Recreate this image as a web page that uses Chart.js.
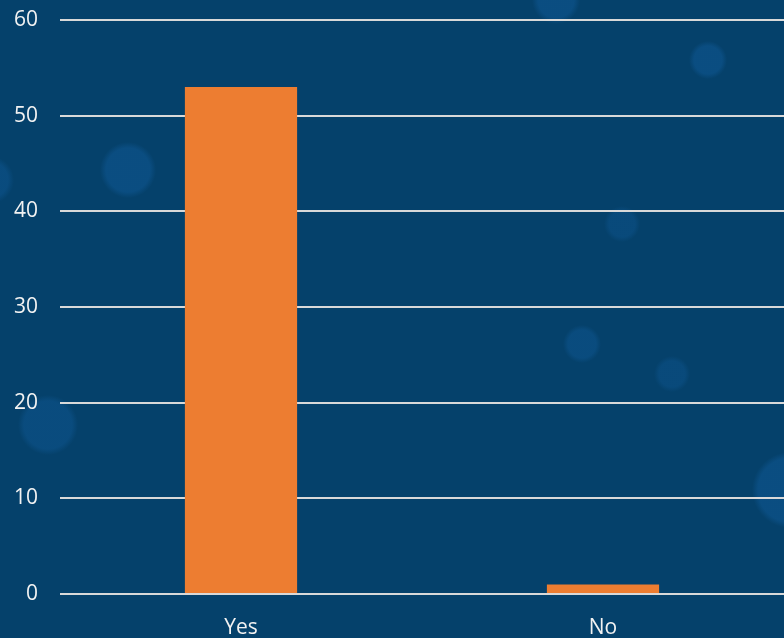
<!DOCTYPE html>
<html><head><meta charset="utf-8">
<script src="https://cdn.jsdelivr.net/npm/chart.js@4"></script>
<style>
html,body{margin:0;padding:0;}
body{width:784px;height:638px;overflow:hidden;
background-color:#05416b;
background-image:
radial-gradient(circle at 556px 0px, rgba(20,100,170,0.35) 0 18px, transparent 24px),
radial-gradient(circle at 708px 60px, rgba(20,100,170,0.35) 0 14px, transparent 19px),
radial-gradient(circle at 128px 170px, rgba(20,100,170,0.35) 0 22px, transparent 28px),
radial-gradient(circle at 622px 224px, rgba(20,100,170,0.25) 0 13px, transparent 18px),
radial-gradient(circle at 582px 344px, rgba(20,100,170,0.3) 0 14px, transparent 19px),
radial-gradient(circle at 672px 374px, rgba(20,100,170,0.25) 0 13px, transparent 18px),
radial-gradient(circle at 48px 425px, rgba(20,100,170,0.3) 0 24px, transparent 30px),
radial-gradient(circle at 790px 490px, rgba(20,100,170,0.35) 0 32px, transparent 38px),
radial-gradient(circle at -10px 180px, rgba(20,100,170,0.3) 0 18px, transparent 24px);}
#wrap{position:absolute;left:0;top:0;width:784px;height:638px;}
</style></head>
<body>
<div id="wrap"><canvas id="c" width="784" height="638"></canvas></div>
<script>
const categories = ["Yes", "No"];
const values = [53, 1];
const yTicks = [0, 10, 20, 30, 40, 50, 60];

Chart.defaults.font.family = 'Open Sans';
Chart.defaults.font.size = 21;
Chart.defaults.color = '#f2f2f2';

new Chart(document.getElementById('c'), {
  type: 'bar',
  data: {
    labels: categories,
    datasets: [{
      data: values,
      backgroundColor: '#ED7D31',
      borderWidth: 0,
      barPercentage: 0.31,
      categoryPercentage: 1.0
    }]
  },
  options: {
    responsive: false,
    animation: false,
    devicePixelRatio: 1,
    layout: { padding: { top: 20, right: 0, left: 0, bottom: 0 } },
    plugins: { legend: { display: false }, tooltip: { enabled: false } },
    scales: {
      x: {
        grid: { display: false, drawTicks: false },
        border: { display: false },
        ticks: { color: '#f2f2f2', font: { family: 'Open Sans', size: 21 }, padding: 21 },
        afterFit: (s) => { s.height = 44; s.paddingLeft = 0; s.paddingRight = 0; }
      },
      y: {
        min: 0, max: 60,
        afterBuildTicks: (s) => { s.ticks = yTicks.map(v => ({ value: v })); },
        grid: { color: '#d9d9d9', lineWidth: 2, drawTicks: false },
        border: { display: false },
        ticks: { color: '#f2f2f2', font: { family: 'Open Sans', size: 21 }, padding: 22 },
        afterFit: (s) => { s.width = 60; s.paddingTop = 0; s.paddingBottom = 0; }
      }
    }
  }
});
</script>
</body></html>
